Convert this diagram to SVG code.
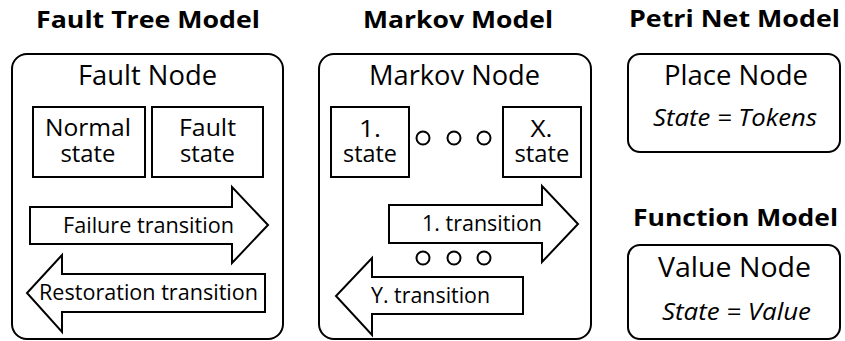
<svg xmlns="http://www.w3.org/2000/svg" width="845" height="341" viewBox="0 0 845 341">
<style>
.bg{fill:#fff}
.box{fill:#fff;stroke:#000;stroke-width:2}
.arr{fill:#fff;stroke:#000;stroke-width:2;stroke-linejoin:miter}
.dot{fill:none;stroke:#000;stroke-width:2}
text{font-family:"Open Sans",Lato,"Liberation Sans",sans-serif;fill:#000;text-anchor:middle}
.title{font-weight:bold;font-size:23px}
.node{font-size:27px}
.st{font-size:24px}
.tr{font-size:21px}
.it{font-style:italic;font-size:23px}
</style>
<rect class="bg" x="0" y="0" width="845" height="341"/>

<g id="fault-tree-model">
  <text class="title" x="148" y="28" textLength="224" lengthAdjust="spacingAndGlyphs">Fault Tree Model</text>
  <rect class="box" x="12" y="54" width="271" height="285" rx="15"/>
  <text class="node" x="147.5" y="85" textLength="139" lengthAdjust="spacingAndGlyphs">Fault Node</text>
  <g id="normal-state">
    <rect class="box" x="33" y="107" width="112" height="70"/>
    <text class="st"><tspan x="88" y="136" textLength="86" lengthAdjust="spacingAndGlyphs">Normal</tspan><tspan x="88" y="162" textLength="55" lengthAdjust="spacingAndGlyphs">state</tspan></text>
  </g>
  <g id="fault-state">
    <rect class="box" x="152" y="107" width="111" height="70"/>
    <text class="st"><tspan x="207.5" y="136" textLength="57" lengthAdjust="spacingAndGlyphs">Fault</tspan><tspan x="207.5" y="162" textLength="55" lengthAdjust="spacingAndGlyphs">state</tspan></text>
  </g>
  <g id="failure-transition">
    <polygon class="arr" points="30,207 232,207 232,187 268,225 232,263 232,244 30,244"/>
    <text class="tr" x="148.5" y="233" textLength="171" lengthAdjust="spacingAndGlyphs">Failure transition</text>
  </g>
  <g id="restoration-transition">
    <polygon class="arr" points="265,274 62,274 62,255 27,293 62,332 62,312 265,312"/>
    <text class="tr" x="148.5" y="300" textLength="219" lengthAdjust="spacingAndGlyphs">Restoration transition</text>
  </g>
</g>

<g id="markov-model">
  <text class="title" x="458" y="28" textLength="190" lengthAdjust="spacingAndGlyphs">Markov Model</text>
  <rect class="box" x="319" y="54" width="272" height="285" rx="15"/>
  <text class="node" x="454.5" y="85" textLength="171" lengthAdjust="spacingAndGlyphs">Markov Node</text>
  <g id="state-1">
    <rect class="box" x="331" y="107" width="78" height="70"/>
    <text class="st"><tspan x="370" y="137" textLength="22" lengthAdjust="spacingAndGlyphs">1.</tspan><tspan x="370" y="162" textLength="54" lengthAdjust="spacingAndGlyphs">state</tspan></text>
  </g>
  <g id="state-x">
    <rect class="box" x="503" y="107" width="78" height="70"/>
    <text class="st"><tspan x="541.5" y="137" textLength="22" lengthAdjust="spacingAndGlyphs">X.</tspan><tspan x="542" y="162" textLength="55" lengthAdjust="spacingAndGlyphs">state</tspan></text>
  </g>
  <g id="state-dots">
    <circle class="dot" cx="423" cy="138" r="6.5"/>
    <circle class="dot" cx="454" cy="138" r="6.5"/>
    <circle class="dot" cx="484" cy="138" r="6.5"/>
  </g>
  <g id="transition-1">
    <polygon class="arr" points="389,205 542,205 542,186 578,224 542,262 542,243 389,243"/>
    <text class="tr" x="482" y="231" textLength="120" lengthAdjust="spacingAndGlyphs">1. transition</text>
  </g>
  <g id="transition-dots">
    <circle class="dot" cx="423" cy="258" r="6.5"/>
    <circle class="dot" cx="454" cy="258" r="6.5"/>
    <circle class="dot" cx="484" cy="258" r="6.5"/>
  </g>
  <g id="transition-y">
    <polygon class="arr" points="523,277 372,277 372,258 336,296 372,335 372,314 523,314"/>
    <text class="tr" x="430.5" y="303" textLength="119" lengthAdjust="spacingAndGlyphs">Y. transition</text>
  </g>
</g>

<g id="petri-net-model">
  <text class="title" x="734.5" y="27" textLength="211" lengthAdjust="spacingAndGlyphs">Petri Net Model</text>
  <rect class="box" x="628" y="54" width="212" height="98" rx="12"/>
  <text class="node" x="736" y="85" textLength="144" lengthAdjust="spacingAndGlyphs">Place Node</text>
  <text class="it" x="735" y="126" textLength="164" lengthAdjust="spacingAndGlyphs">State = Tokens</text>
</g>

<g id="function-model">
  <text class="title" x="735.5" y="226" textLength="205" lengthAdjust="spacingAndGlyphs">Function Model</text>
  <rect class="box" x="628" y="245" width="212" height="94" rx="12"/>
  <text class="node" x="734.5" y="277" textLength="153" lengthAdjust="spacingAndGlyphs">Value Node</text>
  <text class="it" x="736.5" y="320" textLength="149" lengthAdjust="spacingAndGlyphs">State = Value</text>
</g>

<g id="connectors"></g>
</svg>
